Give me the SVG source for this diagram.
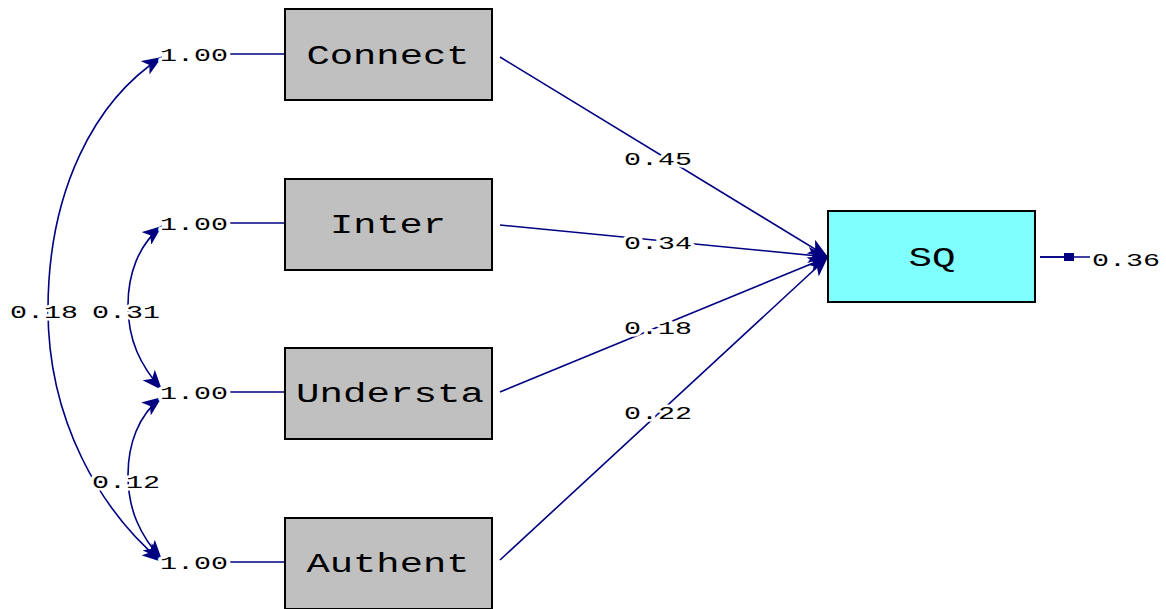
<svg xmlns="http://www.w3.org/2000/svg" width="1166" height="609" viewBox="0 0 1166 609">
<style>
.box{fill:#C0C0C0;stroke:#000;stroke-width:2}
.sq{fill:#80FFFF;stroke:#000;stroke-width:2}
.nm{font-family:"Liberation Mono",monospace;font-size:27px;fill:#000;text-anchor:middle}
.v{font-family:"Liberation Mono",monospace;font-size:18px;fill:#000;text-anchor:middle;stroke:#fff;stroke-width:5;paint-order:stroke;stroke-linejoin:round}
.ln{fill:none;stroke:#000080;stroke-width:1.6}
</style>
<defs>
<marker id="ah" markerWidth="22" markerHeight="16" refX="20" refY="8" orient="auto-start-reverse" markerUnits="userSpaceOnUse">
<path d="M0,0 L20,8 L0,16 L5,8 Z" fill="#000080"/>
</marker>
<marker id="sm" markerWidth="12" markerHeight="10" refX="6" refY="5" orient="auto" markerUnits="userSpaceOnUse">
<rect x="0" y="1" width="10" height="8" fill="#000080"/>
</marker>
</defs>
<rect width="1166" height="609" fill="#fff"/>
<g id="connectors">
<path class="ln" d="M500,57 L828,257" marker-end="url(#ah)"/>
<path class="ln" d="M500,225 L828,257" marker-end="url(#ah)"/>
<path class="ln" d="M500,392 L828,257" marker-end="url(#ah)"/>
<path class="ln" d="M500,560 L828,257" marker-end="url(#ah)"/>
<path class="ln" d="M228,54 L285,54"/>
<path class="ln" d="M228,223 L285,223"/>
<path class="ln" d="M228,392 L285,392"/>
<path class="ln" d="M228,562 L285,562"/>
<path class="ln" d="M162,57 C95,100 48,190 48,310 C48,420 100,510 162,562" marker-start="url(#ah)" marker-end="url(#ah)"/>
<path class="ln" d="M162,226 C138,245 128,275 128,305 C128,340 140,365 162,390" marker-start="url(#ah)" marker-end="url(#ah)"/>
<path class="ln" d="M162,397 C138,415 128,445 128,475 C128,510 140,535 162,560" marker-start="url(#ah)" marker-end="url(#ah)"/>
<path class="ln" d="M1040,257 L1090,257"/>
<path class="ln" d="M1040,257 L1070,257" marker-end="url(#sm)"/>
<text class="v" x="658" y="165" textLength="68" lengthAdjust="spacingAndGlyphs">0.45</text>
<text class="v" x="658" y="249" textLength="68" lengthAdjust="spacingAndGlyphs">0.34</text>
<text class="v" x="658" y="334" textLength="68" lengthAdjust="spacingAndGlyphs">0.18</text>
<text class="v" x="658" y="419" textLength="68" lengthAdjust="spacingAndGlyphs">0.22</text>
<text class="v" x="44" y="318" textLength="68" lengthAdjust="spacingAndGlyphs">0.18</text>
<text class="v" x="126" y="318" textLength="68" lengthAdjust="spacingAndGlyphs">0.31</text>
<text class="v" x="126" y="488" textLength="68" lengthAdjust="spacingAndGlyphs">0.12</text>
<text class="v" x="1126" y="266" textLength="68" lengthAdjust="spacingAndGlyphs">0.36</text>
<text class="v" x="194" y="61" textLength="68" lengthAdjust="spacingAndGlyphs">1.00</text>
<text class="v" x="194" y="230" textLength="68" lengthAdjust="spacingAndGlyphs">1.00</text>
<text class="v" x="194" y="399" textLength="68" lengthAdjust="spacingAndGlyphs">1.00</text>
<text class="v" x="194" y="569" textLength="68" lengthAdjust="spacingAndGlyphs">1.00</text>
</g>
<g id="Connect"><rect class="box" x="285" y="9" width="207" height="91"/><text class="nm" x="388" y="64" textLength="163" lengthAdjust="spacingAndGlyphs">Connect</text></g>
<g id="Inter"><rect class="box" x="285" y="179" width="207" height="91"/><text class="nm" x="388" y="233" textLength="116" lengthAdjust="spacingAndGlyphs">Inter</text></g>
<g id="Understa"><rect class="box" x="285" y="348" width="207" height="91"/><text class="nm" x="390" y="402" textLength="188" lengthAdjust="spacingAndGlyphs">Understa</text></g>
<g id="Authent"><rect class="box" x="285" y="518" width="207" height="91"/><text class="nm" x="388" y="572" textLength="163" lengthAdjust="spacingAndGlyphs">Authent</text></g>
<g id="SQ"><rect class="sq" x="828" y="211" width="207" height="91"/><text class="nm" x="932" y="266" textLength="47" lengthAdjust="spacingAndGlyphs">SQ</text></g>
</svg>
